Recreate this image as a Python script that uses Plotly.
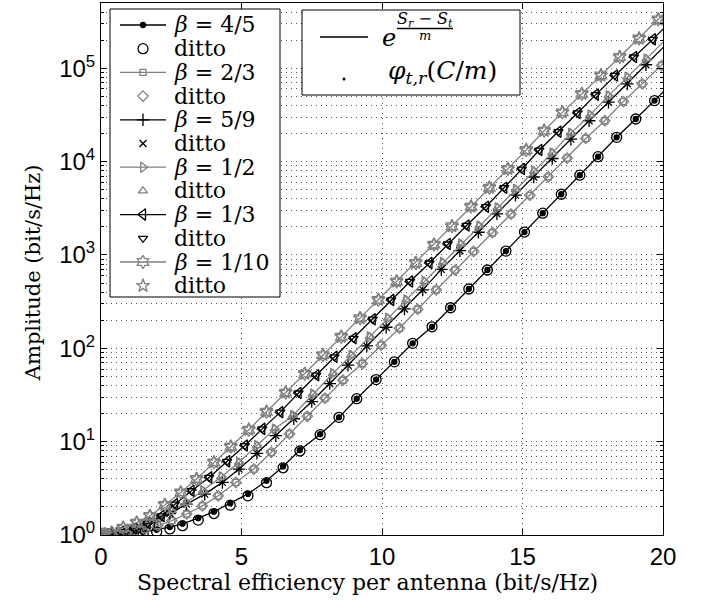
import plotly.graph_objects as go

# ---------------- data ----------------
# beta = 4/5  (line values and 'ditto' values)
x_b45 = [0, 0.03, 0.08, 0.2, 0.4, 0.7, 1.05, 1.50, 1.98, 2.45, 2.90, 3.46, 4.02, 4.60, 5.23, 5.89,
         6.48, 7.08, 7.80, 8.47, 9.10, 9.79, 10.44, 11.09, 11.78, 12.44, 13.09, 13.75, 14.41, 15.07,
         15.72, 16.38, 17.04, 17.69, 18.35, 19.03, 19.70, 20.36]
y_b45 = [1.0, 1.001, 1.002, 1.005, 1.009, 1.019, 1.038, 1.072, 1.135, 1.216, 1.318, 1.514, 1.778,
         2.188, 2.754, 3.802, 5.43, 8.13, 12.02, 18.2, 28.84, 46.2, 71.6, 113, 170, 272, 432, 690,
         1100, 1760, 2800, 4470, 7150, 11300, 18200, 28600, 45000, 70800]
y_b45_ditto = [1.0, 1.0, 1.0, 1.002, 1.005, 1.009, 1.019, 1.035, 1.084, 1.161, 1.259, 1.445, 1.698,
               2.089, 2.630, 3.631, 5.248, 7.943, 11.89, 18.2, 28.84, 46.2, 71.6, 113, 170, 272, 432,
               690, 1100, 1760, 2800, 4470, 7150, 11300, 18200, 28600, 45000, 70800]

# beta = 2/3
x_b23 = [0, 0.02, 0.05, 0.15, 0.35, 0.68, 1.10, 1.55, 2.02, 2.52, 3.05, 3.61, 4.17, 4.80, 5.44, 6.06,
         6.71, 7.34, 7.97, 8.61, 9.30, 9.97, 10.62, 11.27, 11.93, 12.60, 13.26, 13.93, 14.59, 15.26,
         15.92, 16.59, 17.25, 17.93, 18.59, 19.26, 19.95, 20.62]
y_b23 = [1.0, 1.002, 1.005, 1.009, 1.019, 1.035, 1.072, 1.148, 1.259, 1.429, 1.679, 2.05, 2.63, 3.66,
         5.09, 7.69, 12.1, 18.7, 29.2, 45.5, 68.7, 108, 164, 262, 423, 689, 1090, 1730, 2740, 4350,
         6870, 10900, 17700, 27400, 44000, 68100, 107000, 170000]

# beta = 5/9
x_b59 = [0, 0.02, 0.05, 0.12, 0.28, 0.55, 0.95, 1.40, 1.90, 2.45, 3.04, 3.69, 4.32, 4.91, 5.55, 6.22,
         6.86, 7.50, 8.14, 8.79, 9.46, 10.15, 10.80, 11.45, 12.11, 12.77, 13.43, 14.09, 14.75, 15.40,
         16.06, 16.72, 17.37, 18.06, 18.73, 19.39, 20.05]
y_b59 = [1.0, 1.002, 1.005, 1.007, 1.016, 1.035, 1.096, 1.202, 1.40, 1.70, 2.14, 2.74, 3.66, 5.09,
         7.50, 11.6, 17.6, 26.9, 41.9, 65.9, 106, 168, 264, 423, 700, 1110, 1750, 2760, 4370, 6840,
         10800, 17400, 27400, 43300, 68100, 109000, 172000]

# beta = 1/2
x_b12 = [0, 0.02, 0.06, 0.15, 0.33, 0.68, 1.12, 1.58, 2.05, 2.52, 3.04, 3.63, 4.29, 4.91, 5.55, 6.18,
         6.83, 7.54, 8.25, 8.91, 9.56, 10.21, 10.86, 11.51, 12.16, 12.81, 13.46, 14.11, 14.76, 15.41,
         16.06, 16.72, 17.41, 18.06, 18.73, 19.41, 20.08]
y_b12 = [1.0, 1.002, 1.005, 1.012, 1.030, 1.072, 1.148, 1.274, 1.48, 1.82, 2.23, 2.98, 4.21, 6.00,
         9.08, 13.7, 19.1, 32.4, 53.7, 84.5, 133, 210, 330, 520, 832, 1310, 2050, 3210, 5050, 7910,
         12400, 20200, 31600, 50900, 80400, 126000, 200000]

# beta = 1/3
x_b13 = [0, 0.02, 0.06, 0.15, 0.35, 0.72, 1.18, 1.66, 2.16, 2.63, 3.22, 3.85, 4.49, 5.12, 5.74, 6.38,
         7.03, 7.66, 8.31, 8.99, 9.67, 10.33, 11.00, 11.69, 12.34, 13.01, 13.70, 14.35, 14.98, 15.60,
         16.28, 16.96, 17.61, 18.29, 18.97, 19.64, 20.30]
y_b13 = [1.0, 1.002, 1.005, 1.014, 1.035, 1.084, 1.175, 1.334, 1.603, 2.14, 2.98, 4.14, 6.15, 9.08,
         13.7, 20.7, 33.2, 51.5, 81.1, 128, 205, 330, 520, 820, 1310, 2070, 3290, 5250, 8320, 13300,
         20900, 33200, 52200, 83700, 132000, 204000, 324000]

# beta = 1/10
x_b110 = [0, 0.02, 0.06, 0.15, 0.38, 0.79, 1.27, 1.74, 2.27, 2.84, 3.40, 4.02, 4.62, 5.26, 5.89, 6.57,
          7.25, 7.90, 8.55, 9.22, 9.87, 10.52, 11.20, 11.85, 12.49, 13.17, 13.82, 14.48, 15.13, 15.77,
          16.42, 17.11, 17.79, 18.46, 19.15, 19.83, 20.49]
y_b110 = [1.0, 1.002, 1.007, 1.019, 1.059, 1.20, 1.355, 1.60, 2.10, 2.86, 3.98, 6.00, 8.85, 13.4,
          20.9, 33.5, 53.2, 84.5, 133, 210, 330, 520, 820, 1290, 2030, 3290, 5250, 8320, 13300,
          21400, 33700, 53100, 83700, 132000, 208000, 333000, 525000]

beta_labels = ["4/5", "2/3", "5/9", "1/2", "1/3", "1/10"]
x_ticks = [0, 5, 10, 15, 20]
y_ticks = [1, 10, 100, 1000, 10000, 100000]
y_ticktext = ["10<sup>0</sup>", "10<sup>1</sup>", "10<sup>2</sup>", "10<sup>3</sup>",
              "10<sup>4</sup>", "10<sup>5</sup>"]
y_minor = [m * d for d in [1, 10, 100, 1000, 10000, 100000] for m in range(2, 10)]

# ---------------- styling ----------------
BLACK = "#000000"
GRAY = "#808080"
SERIF = "DejaVu Serif"
SANS = "Liberation Sans, Arial, sans-serif"
LW = 1.3
X_RANGE = [0, 20]
Y_LOG_RANGE = [0, 5.699]

series = [
    (beta_labels[0], x_b45, y_b45, y_b45_ditto, BLACK, ("circle", 5), ("circle-open", 10)),
    (beta_labels[1], x_b23, y_b23, y_b23, GRAY, ("square-open", 6), ("diamond-open", 8)),
    (beta_labels[2], x_b59, y_b59, y_b59, BLACK, ("cross-thin-open", 9), ("x-thin-open", 7)),
    (beta_labels[3], x_b12, y_b12, y_b12, GRAY, ("triangle-right-open", 9), ("triangle-up-open", 8)),
    (beta_labels[4], x_b13, y_b13, y_b13, BLACK, ("triangle-left-open", 10), ("triangle-down-open", 8)),
    (beta_labels[5], x_b110, y_b110, y_b110, GRAY, ("hexagram-open", 10), ("star-open", 10)),
]

fig = go.Figure()
for lab, xs, ys, yd, col, (sym1, s1), (sym2, s2) in series:
    fig.add_trace(go.Scatter(
        x=xs, y=ys, mode="lines+markers", name="β = " + lab, showlegend=False,
        line=dict(color=col, width=LW),
        marker=dict(symbol=sym1, size=s1, color=col, line=dict(color=col, width=LW))))
    fig.add_trace(go.Scatter(
        x=xs, y=yd, mode="markers", name="ditto", showlegend=False,
        marker=dict(symbol=sym2, size=s2, color=col, line=dict(color=col, width=LW))))

# ---------------- hand-built legends (positions in screen pixels) ----------------
PL, PR, PT, PB = 101, 663, 3, 535


def fx(px):  # screen px -> fraction of plot width
    return (px - PL) / (PR - PL)


def fy(py):  # screen px -> fraction of plot height
    return (PB - py) / (PB - PT)


def dx(px):  # screen px -> x data value
    return X_RANGE[0] + fx(px) * (X_RANGE[1] - X_RANGE[0])


def dy(py):  # screen px -> y data value (log axis)
    return 10 ** (Y_LOG_RANGE[0] + fy(py) * (Y_LOG_RANGE[1] - Y_LOG_RANGE[0]))


def key(xpx, ypx, **kw):
    fig.add_trace(go.Scatter(x=[dx(p) for p in xpx], y=[dy(p) for p in ypx],
                             showlegend=False, hoverinfo="skip", cliponaxis=False, **kw))


def box(x0, x1, y0, y1):
    key([x0, x1, x1, x0, x0], [y0, y0, y1, y1, y0], mode="lines", fill="toself",
        fillcolor="white", line=dict(color=BLACK, width=1))


annotations = []


def label(text, xpx, ypx, size, xanchor="left"):
    annotations.append(dict(text=text, xref="paper", yref="paper", x=fx(xpx), y=fy(ypx),
                            xanchor=xanchor, yanchor="middle", showarrow=False,
                            font=dict(family=SERIF, size=size, color=BLACK)))


# legend 1
box(110, 280, 9, 297)
row0, row_gap = 25.0, 23.7
key_x0, key_x1, text_x = 120, 166, 172
kc = (key_x0 + key_x1) / 2
for i, (lab, xs, ys, yd, col, (sym1, s1), (sym2, s2)) in enumerate(series):
    ry = row0 + row_gap * (2 * i)
    ryd = row0 + row_gap * (2 * i + 1)
    key([key_x0, key_x1], [ry, ry], mode="lines", line=dict(color=col, width=LW))
    key([kc], [ry], mode="markers",
        marker=dict(symbol=sym1, size=s1, color=col, line=dict(color=col, width=LW)))
    key([kc], [ryd], mode="markers",
        marker=dict(symbol=sym2, size=s2, color=col, line=dict(color=col, width=LW)))
    label("<i>β</i> = " + lab, text_x, ry, 22)
    label("ditto", text_x, ryd, 22)

# legend 2
box(302, 520, 10, 95)
key([320, 368], [37, 37], mode="lines", line=dict(color=BLACK, width=LW))
key([344], [79], mode="markers", marker=dict(symbol="circle", size=3, color=BLACK))
label("<i>e</i>", 380, 38, 24)
label("<i>S<sub>r</sub></i> − <i>S<sub>t</sub></i>", 425, 19, 16, xanchor="center")
key([397, 453], [28.5, 28.5], mode="lines", line=dict(color=BLACK, width=1.5))
label("<i>m</i>", 425, 36, 13, xanchor="center")
label("<i>φ</i><sub><i>t,r</i></sub>(<i>C</i>/<i>m</i>)", 386, 72, 25)

# axis titles
annotations.append(dict(text="Spectral efficiency per antenna (bit/s/Hz)", xref="paper", yref="paper",
                        x=0.475, y=-0.090, xanchor="center", yanchor="middle", showarrow=False,
                        font=dict(family=SERIF, size=22, color=BLACK)))
annotations.append(dict(text="Amplitude (bit/s/Hz)", xref="paper", yref="paper",
                        x=-0.121, y=0.494, xanchor="center", yanchor="middle", showarrow=False,
                        textangle=-90, font=dict(family=SERIF, size=21, color=BLACK)))

GRID = "#555555"
GRIDDASH = "1px,4px"

fig.update_layout(
    width=707, height=606,
    margin=dict(l=PL, r=707 - PR, t=PT, b=606 - PB),
    paper_bgcolor="white", plot_bgcolor="white",
    showlegend=False,
    xaxis=dict(range=X_RANGE, tickmode="array", tickvals=x_ticks,
               ticktext=[str(v) for v in x_ticks],
               ticks="inside", ticklen=6, tickcolor=BLACK,
               showline=True, linecolor=BLACK, linewidth=1, mirror="ticks",
               showgrid=True, gridcolor=GRID, griddash=GRIDDASH, gridwidth=1,
               zeroline=False,
               tickfont=dict(family=SANS, size=24, color=BLACK)),
    yaxis=dict(type="log", range=Y_LOG_RANGE, tickmode="array", tickvals=y_ticks,
               ticktext=y_ticktext,
               ticks="inside", ticklen=6, tickcolor=BLACK,
               showline=True, linecolor=BLACK, linewidth=1, mirror="ticks",
               showgrid=True, gridcolor=GRID, griddash=GRIDDASH, gridwidth=1,
               zeroline=False,
               minor=dict(tickmode="array", tickvals=y_minor, ticks="inside", ticklen=3,
                          tickcolor=BLACK, showgrid=True, gridcolor=GRID,
                          griddash=GRIDDASH, gridwidth=1),
               tickfont=dict(family=SANS, size=24, color=BLACK)),
    annotations=annotations,
)

fig.write_html("out.html", config={"displayModeBar": False},
               post_script="document.body.style.margin='0px';document.body.style.overflow='hidden';")
